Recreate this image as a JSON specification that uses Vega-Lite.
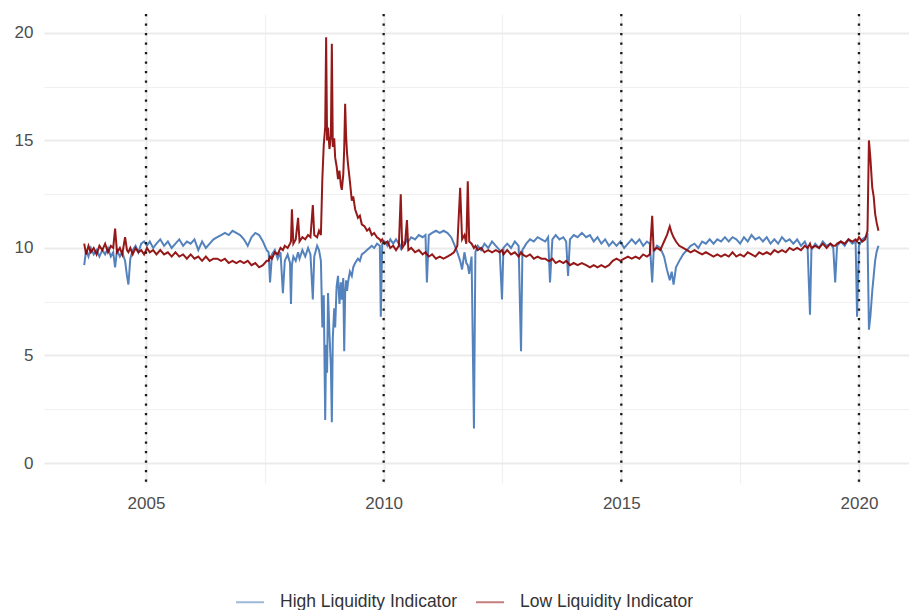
{
"$schema": "https://vega.github.io/schema/vega-lite/v6.json",
"width": 865, "height": 469,
"autosize": {"type": "none"},
"padding": {"left": 44, "top": 14, "right": 0, "bottom": 127},
"background": "white",
"config": {"view": {"stroke": null}, "font": "Liberation Sans"},
"datasets": {
"v": [{"t":2005},{"t":2010},{"t":2015},{"t":2020}],
"s": [
{"t":2003.70,"h":9.2,"l":10.2},{"t":2003.74,"h":9.9,"l":9.7},{"t":2003.79,"h":9.6,"l":10.1},{"t":2003.84,"h":10.0,"l":9.8},{"t":2003.90,"h":9.7,"l":10.0},{"t":2003.96,"h":9.9,"l":9.7},{"t":2004.02,"h":9.6,"l":10.1},{"t":2004.08,"h":9.9,"l":9.9},{"t":2004.14,"h":9.7,"l":10.2},{"t":2004.20,"h":10.0,"l":9.8},{"t":2004.26,"h":9.6,"l":10.1},{"t":2004.31,"h":9.8,"l":10.0},{"t":2004.35,"h":9.1,"l":10.9},{"t":2004.39,"h":9.9,"l":9.8},{"t":2004.45,"h":9.6,"l":10.0},{"t":2004.50,"h":9.8,"l":9.7},{"t":2004.56,"h":9.4,"l":10.5},{"t":2004.60,"h":8.7,"l":9.9},{"t":2004.63,"h":8.3,"l":9.8},{"t":2004.67,"h":9.5,"l":10.0},{"t":2004.72,"h":9.9,"l":9.7},{"t":2004.78,"h":10.1,"l":10.0},{"t":2004.84,"h":9.8,"l":9.8},{"t":2004.90,"h":10.2,"l":9.9},{"t":2004.96,"h":10.3,"l":9.7},
{"t":2005.02,"h":10.1,"l":10.0},{"t":2005.08,"h":10.3,"l":9.8},{"t":2005.15,"h":10.0,"l":9.9},{"t":2005.22,"h":10.2,"l":9.7},{"t":2005.30,"h":10.4,"l":9.9},{"t":2005.38,"h":10.1,"l":9.7},{"t":2005.46,"h":10.3,"l":9.8},{"t":2005.54,"h":10.0,"l":9.6},{"t":2005.62,"h":10.2,"l":9.8},{"t":2005.70,"h":10.4,"l":9.6},{"t":2005.78,"h":10.1,"l":9.7},{"t":2005.86,"h":10.3,"l":9.5},{"t":2005.94,"h":10.2,"l":9.7},{"t":2006.02,"h":10.4,"l":9.5},{"t":2006.10,"h":9.9,"l":9.6},{"t":2006.18,"h":10.3,"l":9.4},{"t":2006.26,"h":10.0,"l":9.6},{"t":2006.34,"h":10.2,"l":9.4},{"t":2006.42,"h":10.4,"l":9.5},{"t":2006.50,"h":10.5,"l":9.5},{"t":2006.58,"h":10.6,"l":9.4},{"t":2006.66,"h":10.7,"l":9.5},{"t":2006.74,"h":10.6,"l":9.3},{"t":2006.82,"h":10.8,"l":9.4},{"t":2006.90,"h":10.7,"l":9.3},{"t":2006.98,"h":10.6,"l":9.4},{"t":2007.06,"h":10.4,"l":9.3},{"t":2007.14,"h":10.1,"l":9.4},{"t":2007.22,"h":10.5,"l":9.2},{"t":2007.30,"h":10.7,"l":9.3},{"t":2007.38,"h":10.6,"l":9.1},{"t":2007.46,"h":10.3,"l":9.2},{"t":2007.54,"h":9.9,"l":9.4},
{"t":2007.58,"h":9.8,"l":9.4},{"t":2007.61,"h":8.4,"l":9.6},{"t":2007.65,"h":9.7,"l":9.5},{"t":2007.71,"h":9.9,"l":9.8},{"t":2007.77,"h":9.5,"l":9.7},{"t":2007.83,"h":9.8,"l":10.0},{"t":2007.88,"h":7.9,"l":9.9},{"t":2007.92,"h":9.4,"l":10.1},{"t":2007.98,"h":9.7,"l":10.0},{"t":2008.03,"h":9.3,"l":10.2},{"t":2008.05,"h":7.4,"l":10.3},{"t":2008.07,"h":9.2,"l":11.8},{"t":2008.10,"h":9.6,"l":10.2},{"t":2008.15,"h":9.4,"l":10.4},{"t":2008.20,"h":9.8,"l":11.4},{"t":2008.23,"h":9.5,"l":10.3},{"t":2008.29,"h":9.9,"l":10.5},{"t":2008.35,"h":9.6,"l":10.4},{"t":2008.41,"h":10.0,"l":10.6},{"t":2008.46,"h":9.7,"l":10.5},{"t":2008.51,"h":7.6,"l":12.0},{"t":2008.54,"h":9.6,"l":10.6},{"t":2008.60,"h":10.1,"l":10.5},{"t":2008.64,"h":9.9,"l":10.8},{"t":2008.68,"h":9.4,"l":10.6},
{"t":2008.71,"h":6.3,"l":13.2},{"t":2008.74,"h":7.8,"l":14.8},{"t":2008.77,"h":2.0,"l":15.6},{"t":2008.79,"h":5.5,"l":19.8},{"t":2008.81,"h":4.2,"l":15.0},{"t":2008.83,"h":7.9,"l":15.6},{"t":2008.86,"h":6.0,"l":14.6},{"t":2008.89,"h":4.5,"l":15.2},{"t":2008.91,"h":1.9,"l":19.5},{"t":2008.93,"h":5.8,"l":14.7},{"t":2008.96,"h":7.2,"l":15.1},{"t":2008.98,"h":6.3,"l":14.2},{"t":2009.01,"h":8.2,"l":13.8},{"t":2009.04,"h":8.7,"l":13.2},{"t":2009.07,"h":7.4,"l":13.6},{"t":2009.10,"h":8.4,"l":12.9},{"t":2009.12,"h":7.6,"l":12.7},{"t":2009.15,"h":8.6,"l":13.4},{"t":2009.17,"h":5.2,"l":14.6},{"t":2009.19,"h":7.9,"l":16.7},{"t":2009.21,"h":8.5,"l":15.2},{"t":2009.23,"h":8.0,"l":14.4},{"t":2009.25,"h":8.4,"l":13.9},{"t":2009.29,"h":8.9,"l":13.1},{"t":2009.33,"h":8.7,"l":12.2},{"t":2009.36,"h":9.1,"l":12.4},{"t":2009.40,"h":9.3,"l":11.8},{"t":2009.46,"h":9.5,"l":11.4},{"t":2009.50,"h":9.4,"l":11.5},{"t":2009.54,"h":9.7,"l":11.1},{"t":2009.60,"h":9.8,"l":11.0},{"t":2009.65,"h":9.9,"l":10.8},{"t":2009.70,"h":10.0,"l":10.9},{"t":2009.75,"h":10.1,"l":10.6},{"t":2009.80,"h":10.0,"l":10.7},{"t":2009.86,"h":10.2,"l":10.5},{"t":2009.92,"h":10.1,"l":10.4},{"t":2009.94,"h":6.8,"l":10.3},{"t":2009.97,"h":10.2,"l":10.4},
{"t":2010.02,"h":10.3,"l":10.2},{"t":2010.08,"h":10.1,"l":10.3},{"t":2010.14,"h":10.4,"l":10.0},{"t":2010.20,"h":10.2,"l":10.1},{"t":2010.26,"h":10.4,"l":9.9},{"t":2010.32,"h":10.2,"l":10.1},{"t":2010.36,"h":10.0,"l":12.5},{"t":2010.39,"h":10.3,"l":10.0},{"t":2010.45,"h":10.2,"l":10.2},{"t":2010.49,"h":10.4,"l":11.3},{"t":2010.52,"h":10.3,"l":9.9},{"t":2010.58,"h":10.5,"l":10.0},{"t":2010.66,"h":10.4,"l":9.8},{"t":2010.74,"h":10.6,"l":9.9},{"t":2010.82,"h":10.5,"l":9.7},{"t":2010.88,"h":10.6,"l":9.8},{"t":2010.91,"h":8.4,"l":9.7},{"t":2010.95,"h":10.6,"l":9.6},{"t":2011.02,"h":10.7,"l":9.7},{"t":2011.10,"h":10.8,"l":9.5},{"t":2011.18,"h":10.7,"l":9.6},{"t":2011.26,"h":10.8,"l":9.5},{"t":2011.34,"h":10.7,"l":9.6},{"t":2011.42,"h":10.5,"l":9.7},{"t":2011.48,"h":10.2,"l":9.8},{"t":2011.55,"h":9.8,"l":10.1},{"t":2011.61,"h":9.4,"l":12.8},{"t":2011.65,"h":9.0,"l":10.4},{"t":2011.70,"h":9.8,"l":10.6},{"t":2011.74,"h":9.3,"l":10.2},{"t":2011.77,"h":9.2,"l":13.1},{"t":2011.80,"h":8.8,"l":10.3},{"t":2011.85,"h":9.6,"l":10.2},{"t":2011.90,"h":1.6,"l":10.0},{"t":2011.93,"h":9.8,"l":10.1},{"t":2011.98,"h":10.1,"l":9.9},
{"t":2012.05,"h":9.9,"l":10.0},{"t":2012.12,"h":10.2,"l":9.8},{"t":2012.20,"h":10.0,"l":9.9},{"t":2012.28,"h":10.3,"l":9.8},{"t":2012.36,"h":10.1,"l":9.9},{"t":2012.44,"h":9.9,"l":9.8},{"t":2012.49,"h":7.6,"l":9.9},{"t":2012.52,"h":10.0,"l":9.7},{"t":2012.60,"h":10.2,"l":9.9},{"t":2012.68,"h":10.0,"l":9.7},{"t":2012.76,"h":10.3,"l":9.8},{"t":2012.84,"h":10.1,"l":9.6},{"t":2012.89,"h":5.2,"l":9.8},{"t":2012.92,"h":9.9,"l":9.7},{"t":2013.00,"h":10.2,"l":9.6},{"t":2013.08,"h":10.4,"l":9.7},{"t":2013.16,"h":10.3,"l":9.5},{"t":2013.24,"h":10.5,"l":9.6},{"t":2013.32,"h":10.4,"l":9.5},{"t":2013.40,"h":10.3,"l":9.5},{"t":2013.46,"h":10.5,"l":9.4},{"t":2013.50,"h":8.4,"l":9.4},{"t":2013.55,"h":10.4,"l":9.5},{"t":2013.62,"h":10.6,"l":9.3},{"t":2013.70,"h":10.4,"l":9.4},{"t":2013.78,"h":10.5,"l":9.3},{"t":2013.84,"h":10.3,"l":9.4},{"t":2013.88,"h":8.7,"l":9.3},{"t":2013.92,"h":10.4,"l":9.2},{"t":2014.00,"h":10.6,"l":9.3},{"t":2014.08,"h":10.5,"l":9.2},{"t":2014.17,"h":10.7,"l":9.3},{"t":2014.26,"h":10.5,"l":9.2},{"t":2014.34,"h":10.6,"l":9.1},{"t":2014.42,"h":10.3,"l":9.2},{"t":2014.50,"h":10.5,"l":9.1},{"t":2014.58,"h":10.2,"l":9.2},{"t":2014.66,"h":10.4,"l":9.1},{"t":2014.74,"h":10.1,"l":9.2},{"t":2014.82,"h":10.3,"l":9.4},{"t":2014.90,"h":10.1,"l":9.5},{"t":2014.98,"h":10.3,"l":9.4},
{"t":2015.06,"h":10.0,"l":9.5},{"t":2015.14,"h":10.2,"l":9.6},{"t":2015.22,"h":10.4,"l":9.5},{"t":2015.30,"h":10.2,"l":9.6},{"t":2015.38,"h":10.4,"l":9.5},{"t":2015.46,"h":10.1,"l":9.7},{"t":2015.54,"h":10.3,"l":9.6},{"t":2015.60,"h":10.2,"l":9.7},{"t":2015.65,"h":8.4,"l":11.5},{"t":2015.68,"h":9.8,"l":9.9},{"t":2015.75,"h":10.1,"l":10.0},{"t":2015.82,"h":10.0,"l":9.9},{"t":2015.90,"h":9.6,"l":10.3},{"t":2015.96,"h":9.0,"l":10.6},{"t":2016.02,"h":8.5,"l":11.0},{"t":2016.06,"h":8.9,"l":10.7},{"t":2016.10,"h":8.3,"l":10.5},{"t":2016.15,"h":9.1,"l":10.3},{"t":2016.22,"h":9.4,"l":10.1},{"t":2016.30,"h":9.7,"l":10.0},{"t":2016.38,"h":9.9,"l":9.9},{"t":2016.46,"h":10.1,"l":9.8},{"t":2016.54,"h":10.2,"l":9.9},{"t":2016.62,"h":10.0,"l":9.8},{"t":2016.70,"h":10.3,"l":9.7},{"t":2016.78,"h":10.2,"l":9.8},{"t":2016.86,"h":10.4,"l":9.7},{"t":2016.94,"h":10.2,"l":9.6},{"t":2017.02,"h":10.4,"l":9.7},{"t":2017.10,"h":10.3,"l":9.6},{"t":2017.18,"h":10.5,"l":9.7},{"t":2017.26,"h":10.3,"l":9.6},{"t":2017.34,"h":10.5,"l":9.8},{"t":2017.42,"h":10.4,"l":9.6},{"t":2017.50,"h":10.2,"l":9.7},{"t":2017.58,"h":10.5,"l":9.6},{"t":2017.66,"h":10.3,"l":9.8},{"t":2017.74,"h":10.6,"l":9.7},{"t":2017.82,"h":10.4,"l":9.6},{"t":2017.90,"h":10.5,"l":9.8},{"t":2017.98,"h":10.3,"l":9.7},
{"t":2018.06,"h":10.5,"l":9.8},{"t":2018.14,"h":10.2,"l":9.7},{"t":2018.22,"h":10.4,"l":9.9},{"t":2018.30,"h":10.2,"l":9.8},{"t":2018.38,"h":10.5,"l":9.9},{"t":2018.46,"h":10.3,"l":9.8},{"t":2018.54,"h":10.4,"l":10.0},{"t":2018.62,"h":10.2,"l":9.9},{"t":2018.70,"h":10.4,"l":10.0},{"t":2018.78,"h":10.1,"l":9.9},{"t":2018.86,"h":10.3,"l":10.1},{"t":2018.92,"h":10.0,"l":10.0},{"t":2018.97,"h":6.9,"l":10.2},{"t":2019.00,"h":9.9,"l":10.0},{"t":2019.08,"h":10.2,"l":10.1},{"t":2019.16,"h":10.0,"l":10.0},{"t":2019.24,"h":10.3,"l":10.2},{"t":2019.32,"h":10.1,"l":10.0},{"t":2019.40,"h":10.2,"l":10.2},{"t":2019.46,"h":10.0,"l":10.1},{"t":2019.50,"h":8.4,"l":10.1},{"t":2019.54,"h":10.1,"l":10.2},{"t":2019.62,"h":10.3,"l":10.3},{"t":2019.70,"h":10.1,"l":10.2},{"t":2019.78,"h":10.4,"l":10.4},{"t":2019.86,"h":10.2,"l":10.3},{"t":2019.93,"h":10.3,"l":10.4},{"t":2019.96,"h":6.8,"l":10.3},{"t":2020.00,"h":10.1,"l":10.5},{"t":2020.07,"h":10.4,"l":10.3},{"t":2020.13,"h":10.5,"l":10.4},{"t":2020.18,"h":10.6,"l":10.8},{"t":2020.21,"h":6.2,"l":15.0},{"t":2020.24,"h":6.8,"l":14.2},{"t":2020.28,"h":8.0,"l":12.8},{"t":2020.31,"h":8.7,"l":12.4},{"t":2020.34,"h":9.4,"l":11.6},{"t":2020.37,"h":9.8,"l":11.2},{"t":2020.41,"h":10.1,"l":10.8}
]},
"layer": [
{
"data": {"name": "v"},
"mark": {"type": "point", "opacity": 0},
"encoding": {
"x": {"field": "t", "type": "quantitative", "scale": {"domain": [2002.854, 2021.053], "nice": false, "zero": false},
"axis": {"orient": "bottom", "values": [2002.5, 2007.5, 2012.5, 2017.5], "labels": false, "ticks": false, "tickSize": 0, "domain": false, "grid": true, "gridColor": "#f0f0f0", "gridWidth": 1.2, "title": null}},
"y": {"datum": 10, "type": "quantitative", "scale": {"domain": [-0.93, 20.88], "nice": false, "zero": false},
"axis": {"orient": "left", "values": [2.5, 7.5, 12.5, 17.5], "labels": false, "ticks": false, "tickSize": 0, "domain": false, "grid": true, "gridColor": "#f0f0f0", "gridWidth": 1.2, "title": null}}
}
},
{
"data": {"name": "s"},
"transform": [{"fold": ["h", "l"], "as": ["k", "v"]}],
"mark": {"type": "line", "strokeWidth": 2, "opacity": 0.9},
"encoding": {
"x": {"field": "t", "type": "quantitative",
"axis": {"orient": "bottom", "values": [2005, 2010, 2015, 2020], "format": "d", "grid": true, "gridColor": "#ebebeb", "gridWidth": 2, "ticks": false, "tickSize": 0, "domain": false, "labelFontSize": 17, "labelColor": "#4d4d4d", "labelPadding": 12, "title": null}},
"y": {"field": "v", "type": "quantitative",
"axis": {"orient": "left", "values": [0, 5, 10, 15, 20], "grid": true, "gridColor": "#ebebeb", "gridWidth": 2, "ticks": false, "tickSize": 0, "domain": false, "labelFontSize": 17, "labelColor": "#4d4d4d", "labelPadding": 11, "title": null}},
"color": {"field": "k", "type": "nominal",
"scale": {"domain": ["h", "l"], "range": ["#4174b5", "#8b0000"]},
"legend": {"orient": "none", "legendX": 191, "legendY": 573, "direction": "horizontal", "title": null, "symbolType": "stroke", "symbolSize": 784, "symbolStrokeWidth": 2, "symbolOpacity": 0.5, "labelFontSize": 17.5, "labelColor": "#333333", "labelOffset": 15, "columnPadding": 14, "labelLimit": 400,
"labelExpr": "datum.label == 'h' ? 'High Liquidity Indicator' : 'Low Liquidity Indicator'"}}
}
},
{
"data": {"name": "v"},
"mark": {"type": "rule", "color": "#1a1a1a", "strokeWidth": 2.3, "strokeDash": [2.3, 7.2]},
"encoding": {"x": {"field": "t", "type": "quantitative", "axis": null}}
}
],
"resolve": {"axis": {"x": "independent", "y": "independent"}}
}
